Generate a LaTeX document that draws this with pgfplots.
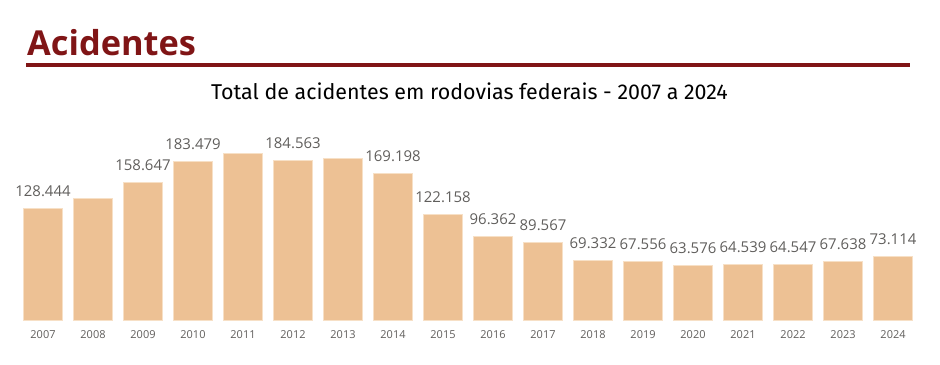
\documentclass[border=0pt]{standalone}
\usepackage{pgfplots}
\pgfplotsset{compat=1.18}
\usepackage{fontspec}
\setmainfont{Open Sans}
\newfontfamily\titlefont{Open Sans}
\newfontfamily\subfont{Fira Sans}
\definecolor{titlered}{RGB}{128,21,22}
\definecolor{barfill}{RGB}{237,193,148}
\definecolor{baredge}{RGB}{247,224,198}
\definecolor{labgray}{RGB}{96,94,92}
\begin{document}
\begin{tikzpicture}[x=1bp,y=1bp]
\useasboundingbox (0,0) rectangle (940,364);
\node[anchor=base west, inner sep=0, text=titlered, font=\titlefont\bfseries\fontsize{34.5}{40}\selectfont] at (27,309) {Acidentes};
\fill[titlered] (26,297.5) rectangle (910,300.8);
\node[anchor=base, inner sep=0, text=black, font=\subfont\fontsize{21.5}{25}\selectfont] at (469.5,265) {Total de acidentes em rodovias federais - 2007 a 2024};
\begin{axis}[
  at={(0bp,44bp)}, anchor=south west,
  width=940bp, height=200bp, scale only axis,
  xmin=2006.14, xmax=2024.94, ymin=0, ymax=231400,
  clip=false,
  axis line style={draw=none},
  major tick length=0pt,
  ytick=\empty,
  xtick={2007,2008,...,2024},
  /pgf/number format/assume math mode=true,
  xticklabel={\pgfmathprintnumber[1000 sep={}]{\tick}},
  xticklabel style={anchor=base, inner sep=0pt, yshift=-18bp, font=\fontsize{11}{13}\selectfont, text=labgray},
]
\addplot[ybar, bar width=39bp, fill=barfill, draw=baredge, line width=1bp] coordinates {
(2007,128444) (2008,141043) (2009,158647) (2010,183479) (2011,192326) (2012,184563)
(2013,186748) (2014,169198) (2015,122158) (2016,96362) (2017,89567) (2018,69332)
(2019,67556) (2020,63576) (2021,64539) (2022,64547) (2023,67638) (2024,73114)
};
\addplot[draw=none, mark=none, nodes near coords, point meta=explicit symbolic,
  nodes near coords style={anchor=base, inner sep=0pt, yshift=12bp, font=\fontsize{15}{18}\selectfont, text=labgray}]
 coordinates {
(2007,128444) [128.444] (2009,158647) [158.647] (2010,183479) [183.479] (2012,184563) [184.563]
(2014,169198) [169.198] (2015,122158) [122.158] (2016,96362) [96.362] (2017,89567) [89.567]
(2018,69332) [69.332] (2019,67556) [67.556] (2020,63576) [63.576] (2021,64539) [64.539]
(2022,64547) [64.547] (2023,67638) [67.638] (2024,73114) [73.114]
};
\end{axis}
\end{tikzpicture}
\end{document}
